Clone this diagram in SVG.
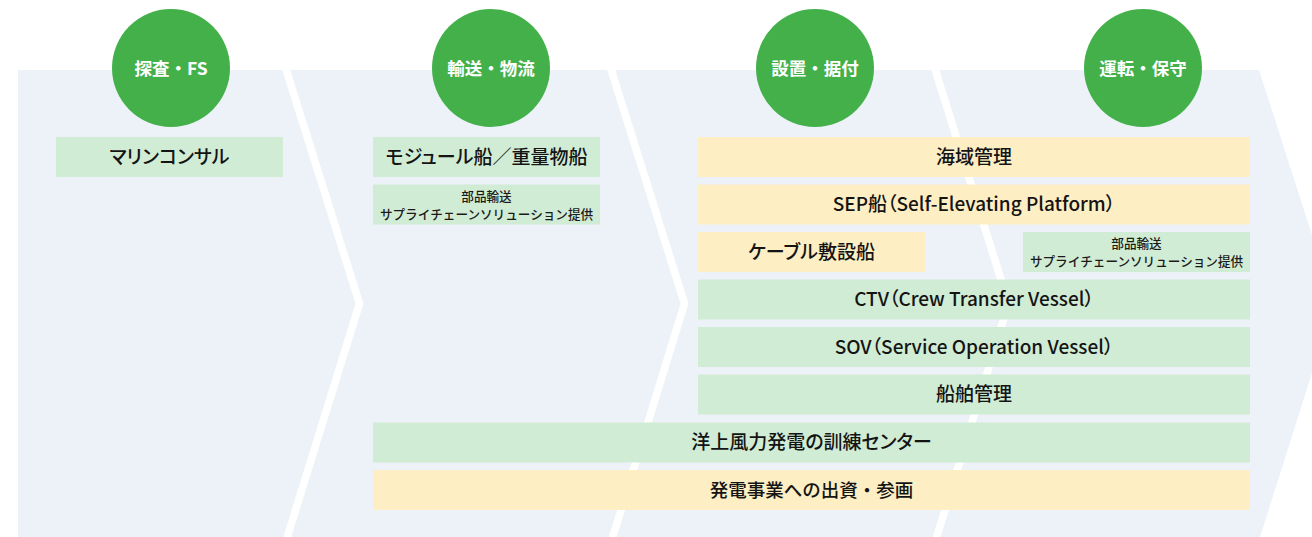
<svg xmlns="http://www.w3.org/2000/svg" width="1312" height="537" viewBox="0 0 1312 537">
<style>
.bg{fill:#EDF1F8}
.sep{fill:none;stroke:#FFFFFF;stroke-width:7.6;stroke-linejoin:miter}
.circ{fill:#43B04A}
.ct{font-family:"Noto Sans CJK JP","Noto Sans",sans-serif;font-size:17.5px;font-weight:700;fill:#FFFFFF;text-anchor:middle}
.g{fill:#D1ECD4}
.y{fill:#FDEEC3}
.t{font-family:"Noto Sans CJK JP","Noto Sans",sans-serif;font-size:19px;font-weight:500;fill:#141414;text-anchor:middle;font-feature-settings:"palt"}
.np{font-feature-settings:normal;font-size:18.5px}
.s{font-family:"Noto Sans CJK JP","Noto Sans",sans-serif;font-size:12.6px;font-weight:500;fill:#1A1A1A;text-anchor:middle}
</style>
<g id="background">
<polygon class="bg" points="18,70 1259,70 1334,303.5 1260,537 18,537"/>
</g>
<g id="connectors">
<polyline class="sep" points="285,66 359.5,303.5 286,541"/>
<polyline class="sep" points="610,66 684.5,303.5 611.5,541"/>
<polyline class="sep" points="934,66 1008.5,303.5 935.5,541"/>
</g>
<g id="phase1"><circle class="circ" cx="171" cy="68" r="59"/><text class="ct" x="171" y="74.5">探査・FS</text></g>
<g id="phase2"><circle class="circ" cx="491" cy="68" r="59"/><text class="ct" x="491" y="74.5">輸送・物流</text></g>
<g id="phase3"><circle class="circ" cx="815" cy="68" r="59"/><text class="ct" x="815" y="74.5">設置・据付</text></g>
<g id="phase4"><circle class="circ" cx="1143" cy="68" r="59"/><text class="ct" x="1143" y="74.5">運転・保守</text></g>
<g id="marine-consul"><rect class="g" x="56" y="137" width="227" height="40"/><text class="t" x="169.5" y="163.6">マリンコンサル</text></g>
<g id="module-ship"><rect class="g" x="373" y="137" width="227" height="40"/><text class="t" x="486.5" y="163.6">モジュール船／重量物船</text></g>
<g id="parts-transport-1"><rect class="g" x="373" y="184.5" width="227" height="40"/><text class="s" x="486.5" y="200.9">部品輸送</text><text class="s" x="486.5" y="218.5">サプライチェーンソリューション提供</text></g>
<g id="sea-area"><rect class="y" x="698" y="137" width="552" height="40"/><text class="t" x="974" y="163.6">海域管理</text></g>
<g id="sep-ship"><rect class="y" x="698" y="184.5" width="552" height="40"/><text class="t" x="974" y="211.1">SEP船（Self-Elevating Platform）</text></g>
<g id="cable-ship"><rect class="y" x="698" y="232" width="227" height="40"/><text class="t" x="811.5" y="258.6">ケーブル敷設船</text></g>
<g id="parts-transport-2"><rect class="g" x="1023" y="232" width="227" height="40"/><text class="s" x="1136.5" y="248.4">部品輸送</text><text class="s" x="1136.5" y="266">サプライチェーンソリューション提供</text></g>
<g id="ctv"><rect class="g" x="698" y="279.5" width="552" height="40"/><text class="t" x="974" y="306.1">CTV（Crew Transfer Vessel）</text></g>
<g id="sov"><rect class="g" x="698" y="327" width="552" height="40"/><text class="t" x="974" y="353.6">SOV（Service Operation Vessel）</text></g>
<g id="ship-mgmt"><rect class="g" x="698" y="374.5" width="552" height="40"/><text class="t" x="974" y="401.1">船舶管理</text></g>
<g id="training"><rect class="g" x="373" y="422.5" width="877" height="40"/><text class="t" x="811.5" y="449.1">洋上風力発電の訓練センター</text></g>
<g id="investment"><rect class="y" x="373" y="470" width="877" height="40"/><text class="t np" x="811.5" y="496.5">発電事業への出資・参画</text></g>
</svg>
